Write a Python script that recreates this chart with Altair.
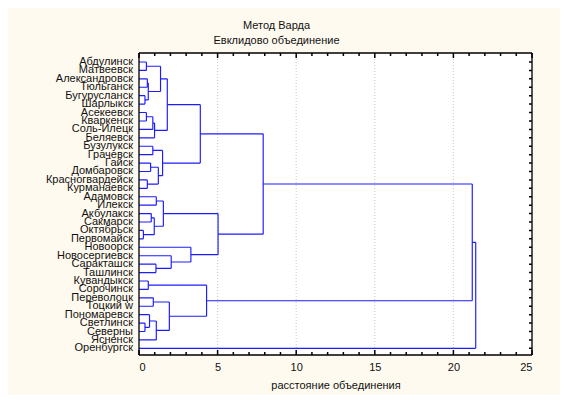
import altair as alt
import pandas as pd

leaves = ["Абдулинск", "Матвеевск", "Александровск", "Тюльганск", "Бугурусланск",
          "Шарлыкск", "Асекеевск", "Кваркенск", "Соль-Илецк", "Беляевск",
          "Бузулукск", "Грачевск", "Гайск", "Домбаровск", "Красногвардейск",
          "Курманаевск", "Адамовск", "Илекск", "Акбулакск", "Сакмарск",
          "Октябрьск", "Первомайск", "Новоорск", "Новосергиевск", "Саракташск",
          "Ташлинск", "Кувандыкск", "Сорочинск", "Переволоцк", "Тоцкий w",
          "Пономаревск", "Светлинск", "Северны", "Ясненск", "Оренбургск"]

merge_a = [0, 2, 4, 36, 35, 6, 40, 41, 39, 10, 12, 14, 45, 44, 43,
           16, 18, 20, 51, 50, 24, 23, 22, 54, 49, 26, 28, 31, 30, 63, 61, 60, 59, 67]
merge_b = [1, 3, 5, 37, 38, 7, 8, 9, 42, 11, 13, 15, 46, 47, 48,
           17, 19, 21, 52, 53, 25, 55, 56, 57, 58, 27, 29, 32, 62, 33, 64, 65, 66, 34]
merge_h = [0.47, 0.53, 0.38, 0.59, 1.37, 0.47, 0.88, 0.99, 1.80, 0.88, 0.74, 0.53, 1.23, 1.50, 3.90,
           1.10, 0.78, 0.28, 0.97, 1.55, 1.08, 2.05, 3.30, 5.03, 7.90, 0.59, 0.91, 0.38, 0.67, 1.10, 1.93, 4.30, 21.20, 21.42]

x_ticks_major = [0, 5, 10, 15, 20, 25]
x_ticks_minor = list(range(0, 26))

W, H = 393, 302
FONT = "Liberation Sans"
X_DOM = [0, 25]
Y_DOM = [-1.07, 34.79]

n = len(leaves)
pos = {i: (float(i), 0.0) for i in range(n)}
segs = []
px_x = (X_DOM[1] - X_DOM[0]) / W
px_y = (Y_DOM[1] - Y_DOM[0]) / H
x0, x1 = X_DOM
ytop, ybot = Y_DOM

# dotted grid at the major ticks (drawn first, so it lies under the links)
for t in x_ticks_major[1:-1]:
    segs.append(dict(x=t, x2=t, y=ytop, y2=ybot, kind="grid"))

for k, (a, b, h) in enumerate(zip(merge_a, merge_b, merge_h)):
    ya, ha = pos[a]
    yb, hb = pos[b]
    segs.append(dict(x=ha, x2=h, y=ya, y2=ya, kind="link"))
    segs.append(dict(x=hb, x2=h, y=yb, y2=yb, kind="link"))
    segs.append(dict(x=h, x2=h, y=ya, y2=yb, kind="link"))
    pos[n + k] = ((ya + yb) / 2, h)

# frame and inward ticks
segs += [dict(x=x0, x2=x1, y=ytop, y2=ytop, kind="edge"),
         dict(x=x0, x2=x1, y=ybot, y2=ybot, kind="edge"),
         dict(x=x0, x2=x0, y=ytop, y2=ybot, kind="edge"),
         dict(x=x1, x2=x1, y=ytop, y2=ybot, kind="edge")]
for t in x_ticks_minor:
    ln = 5 if t in x_ticks_major else 3
    segs.append(dict(x=t, x2=t, y=ybot, y2=ybot - ln * px_y, kind="tick"))
    segs.append(dict(x=t, x2=t, y=ytop, y2=ytop + ln * px_y, kind="tick"))
for i in range(n):
    segs.append(dict(x=x1 - 3 * px_x, x2=x1, y=i, y2=i, kind="tick"))
seg_df = pd.DataFrame(segs)
leaf_df = pd.DataFrame({"name": leaves, "y": list(range(n))})

kinds = ["grid", "link", "edge", "tick"]
xscale = alt.Scale(domain=X_DOM, nice=False, zero=False)
yscale = alt.Scale(domain=Y_DOM, reverse=True, nice=False, zero=False)
xaxis = alt.Axis(values=x_ticks_major, tickSize=0, domain=False, grid=False,
                 labelFont=FONT, labelFontSize=11, labelColor="#111", labelPadding=6,
                 title="расстояние объединения", titleFont=FONT,
                 titleFontSize=11, titleFontWeight="normal", titleColor="#111",
                 titlePadding=7)

lines = alt.Chart(seg_df).mark_rule().encode(
    x=alt.X("x:Q", scale=xscale, axis=xaxis),
    x2="x2:Q",
    y=alt.Y("y:Q", scale=yscale, axis=None),
    y2="y2:Q",
    color=alt.Color("kind:N", legend=None,
                    scale=alt.Scale(domain=kinds,
                                    range=["#c8c8c8", "#1c1cff", "#000000", "#000000"])),
    strokeWidth=alt.StrokeWidth("kind:N", legend=None,
                                scale=alt.Scale(domain=kinds, range=[1.0, 1.5, 1.5, 1.0])),
    strokeDash=alt.StrokeDash("kind:N", legend=None,
                              scale=alt.Scale(domain=kinds,
                                              range=[[1, 2], [1, 0], [1, 0], [1, 0]])),
)

labels = alt.Chart(leaf_df).mark_text(align="right", baseline="middle", dx=-6,
                                      font=FONT, fontSize=11, color="#111").encode(
    x=alt.value(0), y=alt.Y("y:Q", scale=yscale, axis=None), text="name:N")

chart = alt.layer(lines, labels).properties(
    width=W, height=H,
    title=alt.TitleParams(text=["Метод Варда", "Евклидово объединение"], font=FONT,
                          fontSize=11, fontWeight="normal", color="#111",
                          anchor="middle", dx=-59, lineHeight=15, offset=6),
    autosize=alt.AutoSizeParams(type="none"),
    padding={"left": 131, "top": 45, "right": 28, "bottom": 40},
    background="#FEFAEF",
).configure_view(fill="white", stroke=None)

chart.save("out.html", embed_options={"renderer": "svg", "actions": False})
